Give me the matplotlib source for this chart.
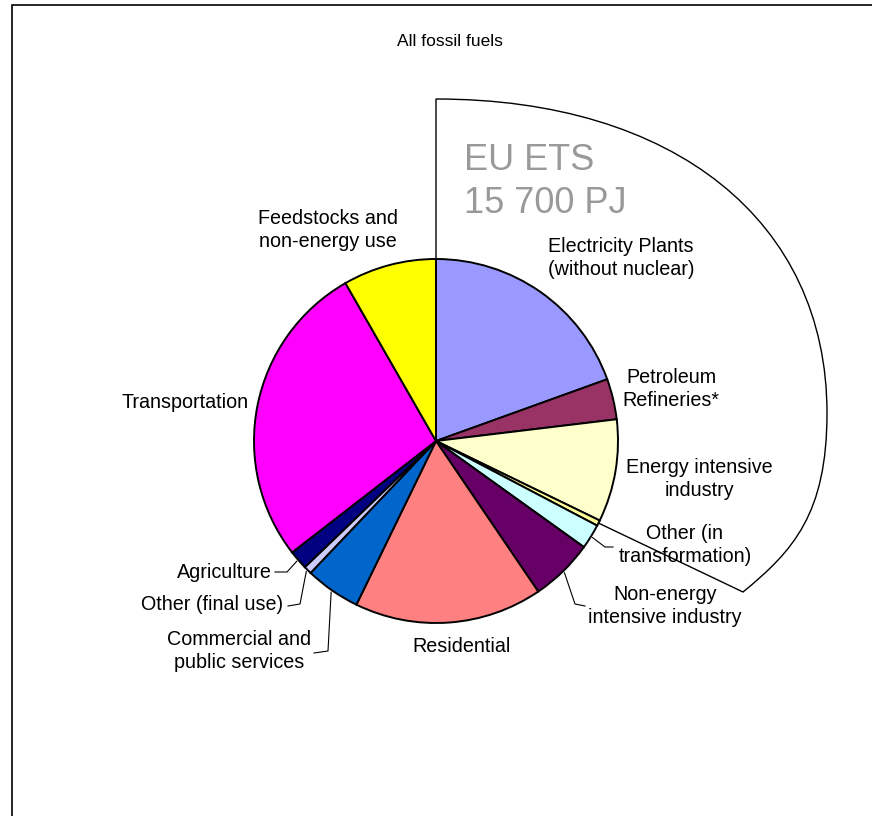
import numpy as np
import matplotlib.pyplot as plt
from matplotlib.path import Path
from matplotlib.patches import PathPatch, Rectangle

plt.rcParams['font.family'] = ['Liberation Sans', 'DejaVu Sans']

# fossil fuel use by sector, PJ (clockwise from 12 o'clock)
sectors = ['Electricity Plants\n(without nuclear)', 'Petroleum\nRefineries*',
           'Energy intensive\nindustry', '', 'Other (in\ntransformation)',
           'Non-energy\nintensive industry', 'Residential',
           'Commercial and\npublic services', 'Other (final use)', 'Agriculture',
           'Transportation', 'Feedstocks and\nnon-energy use']
energy_pj = [9360, 1730, 4370, 240, 1060, 2690, 8020, 2350, 340, 820, 13060, 3980]
colors = ['#9999FF', '#993366', '#FFFFCC', '#FFFF99', '#CCFFFF', '#660066',
          '#FF8080', '#0066CC', '#CCCCFF', '#000080', '#FF00FF', '#FFFF00']
ets_label = 'EU ETS\n15 700 PJ'

W, H = 872, 816
fig = plt.figure(figsize=(W / 100, H / 100), dpi=100)
ax = fig.add_axes([0, 0, 1, 1])


def py(y):
    # screen y (from top) to axes y
    return H - y


cx, cy, R = 436, py(441), 182

wedges, _ = ax.pie(energy_pj, colors=colors, startangle=90, counterclock=False,
                   center=(cx, cy), radius=R, frame=True,
                   wedgeprops=dict(edgecolor='black', linewidth=1.4))
ax.set_xlim(0, W)
ax.set_ylim(0, H)
ax.set_aspect('equal')
ax.axis('off')

# frame
ax.add_patch(Rectangle((11.5, -10), W + 10, py(5) + 10, fill=False, lw=1.2, ec='black'))


def edge_pt(i, frac=0.5, r=R):
    w = wedges[i]
    a = np.radians(w.theta1 + frac * (w.theta2 - w.theta1))
    return cx + r * np.cos(a), cy + r * np.sin(a)


# EU ETS outline around the first sectors
end_x, end_y = edge_pt(3)
verts = [(436, py(441 - R)), (436, py(99)),
         (674, py(99)), (827, py(221)), (827, py(413)),
         (827, py(514)), (793, py(551)), (743, py(592)),
         (end_x, end_y)]
codes = [Path.MOVETO, Path.LINETO, Path.CURVE4, Path.CURVE4, Path.CURVE4,
         Path.CURVE4, Path.CURVE4, Path.CURVE4, Path.LINETO]
ax.add_patch(PathPatch(Path(verts, codes), fill=False, lw=1.0, ec='black', zorder=5))

ax.text(464, py(182), ets_label, fontsize=26, color='#999999', ha='left', va='center',
        linespacing=1.32)
ax.text(450, py(41), 'All fossil fuels', fontsize=12.5, ha='center', va='center')

fs = 14.2
ls = 1.3
label_pos = {0: (621, 258), 1: (671, 389), 2: (699, 479), 4: (685, 545),
             5: (665, 606), 6: (462, 647), 7: (239, 651), 10: (185, 403),
             11: (328, 230)}
for i, (x, y) in label_pos.items():
    ax.text(x, py(y), sectors[i], fontsize=fs, ha='center', va='center', linespacing=ls)
ax.text(283, py(605), sectors[8], fontsize=fs, ha='right', va='center')
ax.text(272, py(572), sectors[9], fontsize=fs, ha='right', va='center')

# leader lines
leaders = {
    4: [(613, 547), (605, 547)],
    5: [(585, 606), (575, 604)],
    7: [(314, 653), (328, 651)],
    8: [(288, 606), (300, 604)],
    9: [(275, 572), (287, 572)],
}
for i, pts in leaders.items():
    xs = [p[0] for p in pts]
    ys = [py(p[1]) for p in pts]
    ex, ey = edge_pt(i, r=R + 2)
    xs.append(ex)
    ys.append(ey)
    ax.plot(xs, ys, color='black', lw=0.8, zorder=4)

fig.savefig('out.png', dpi=100)
